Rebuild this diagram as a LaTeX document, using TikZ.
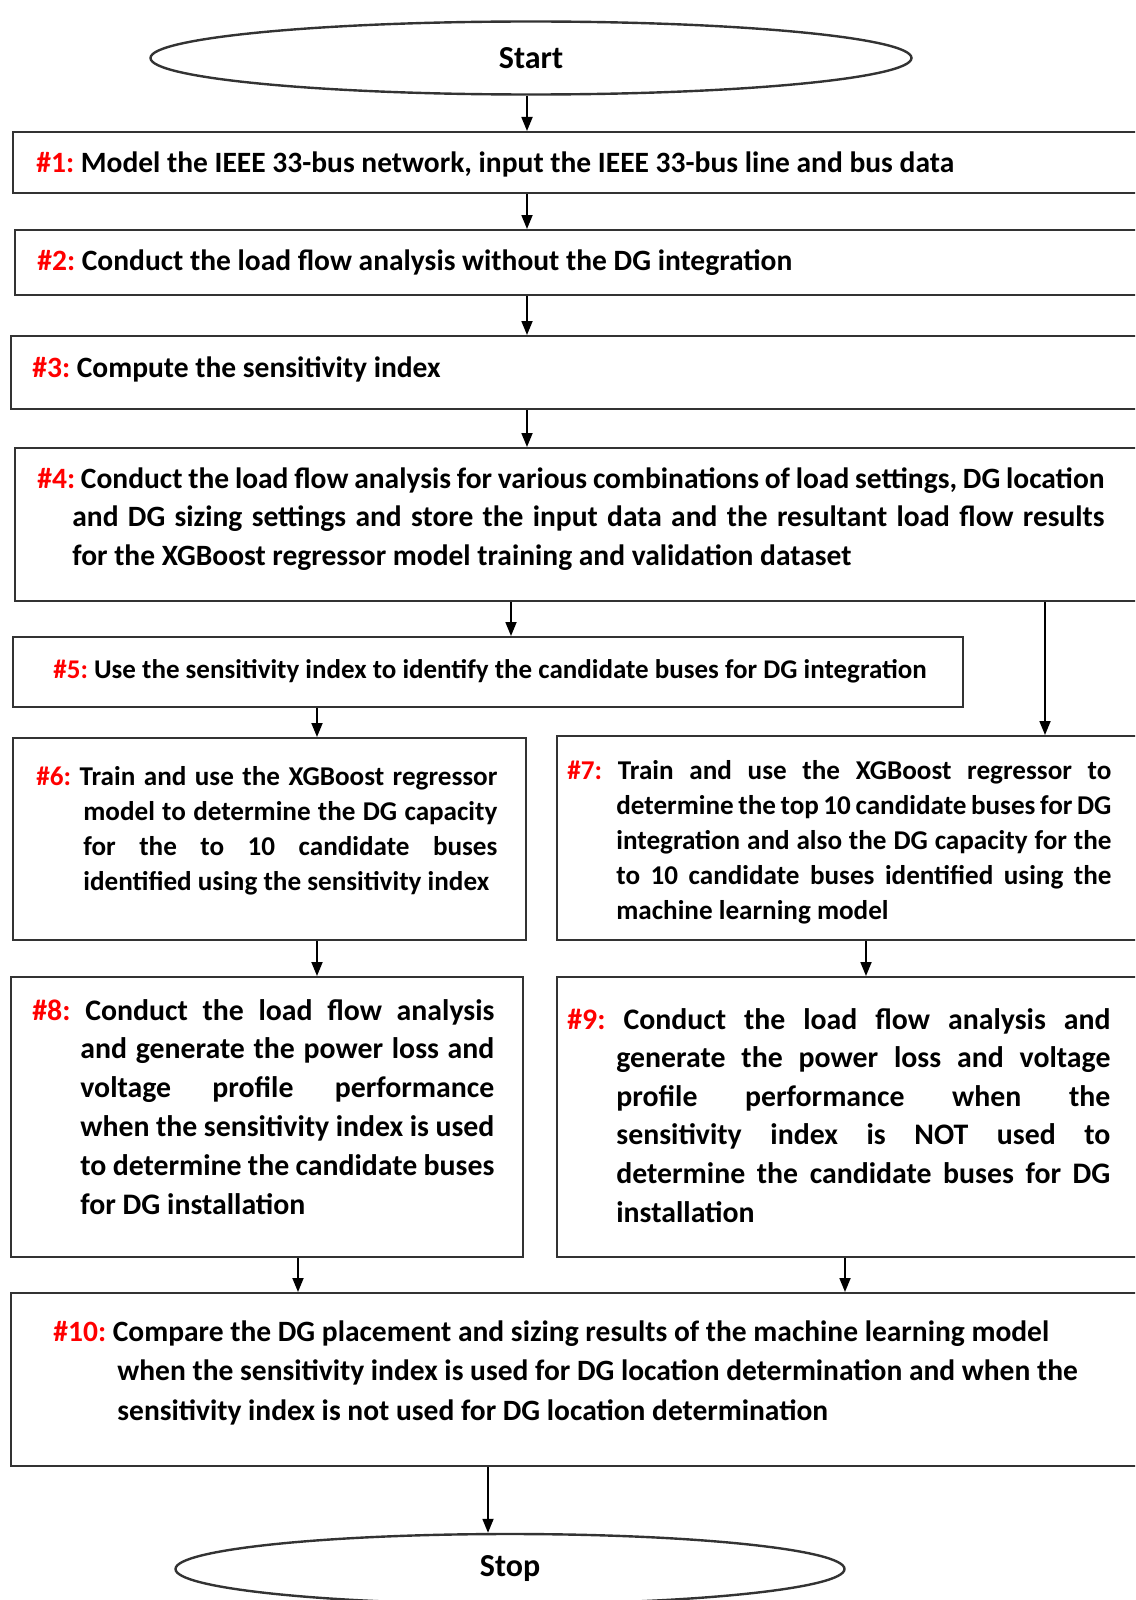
\documentclass[tikz,border=0pt]{standalone}
\usepackage{fontspec}
\setmainfont{Carlito}
\usepackage{xcolor}
\usetikzlibrary{arrows.meta,positioning,shapes.geometric}
\frenchspacing
\tikzset{
  fbox/.style={draw=black!80, line width=1.2pt, anchor=north west, inner sep=0pt},
  fend/.style={draw=black!80, line width=1.2pt, ellipse, inner sep=0pt,
               font=\bfseries\fontsize{16}{19}\selectfont},
  ftxt/.style={anchor=base west, inner sep=0pt},
  ar/.style={-{Triangle[length=7pt,width=5.5pt]}, draw=black, line width=0.9pt},
}
\newcommand{\stepid}[1]{\textcolor{red}{\##1:}}
\newcommand{\fpar}[3]{\parbox[t]{#1}{\hangindent=#2\hangafter=1
  \tolerance=10000 \hbadness=10000 \hyphenpenalty=10000 #3}}

\begin{document}
\begin{tikzpicture}[x=0.5pt, y=-0.5pt]
  \useasboundingbox (0,0) rectangle (1135,1600);
  \clip (0,0) rectangle (1135,1600);
  % terminals
  \node[fend, minimum width=380.5pt, minimum height=36.5pt] (start) at (531,58) {Start};
  \node[fend, minimum width=334.5pt, minimum height=35pt] (stop) at (510,1569) {Stop};
  % step boxes
  \node[fbox, minimum width=569pt, minimum height=30.5pt] (s1) at (12,131) {};
  \node[fbox, minimum width=568pt, minimum height=32.5pt] (s2) at (14,229) {};
  \node[fbox, minimum width=570pt, minimum height=36.5pt] (s3) at (10,335) {};
  \node[fbox, minimum width=568pt, minimum height=76.5pt] (s4) at (14,447) {};
  \node[fbox, minimum width=475pt, minimum height=35pt] (s5) at (12,636) {};
  \node[fbox, minimum width=256.5pt, minimum height=101pt] (s6) at (12,737) {};
  \node[fbox, minimum width=297pt, minimum height=102pt] (s7) at (556,735) {};
  \node[fbox, minimum width=256pt, minimum height=140pt] (s8) at (10,976) {};
  \node[fbox, minimum width=297pt, minimum height=140pt] (s9) at (556,976) {};
  \node[fbox, minimum width=570pt, minimum height=86.5pt] (s10) at (10,1292) {};
  % step texts
  \begin{scope}[every node/.append style={font=\bfseries\fontsize{14.75}{19.35}\selectfont}]
    \node[ftxt] (t1) at (36,172) {\stepid{1} Model the IEEE 33-bus network, input the IEEE 33-bus line and bus data};
    \node[ftxt] (t2) at (37,270) {\stepid{2} Conduct the load flow analysis without the DG integration};
    \node[ftxt] (t3) at (32,377) {\stepid{3} Compute the sensitivity index};
    \node[ftxt] (t4) at (37,488) {\fpar{533.5pt}{17.5pt}{\stepid{4} Conduct the load flow analysis for various combinations of load settings, DG location\linebreak
      and DG sizing settings and store the input data and the resultant load flow results\linebreak
      for the XGBoost regressor model training and validation dataset}};
    \node[ftxt, font=\bfseries\fontsize{13.5}{17.6}\selectfont] (t5) at (53,678) {\stepid{5} Use the sensitivity index to identify the candidate buses for DG integration};
    \node[ftxt, font=\bfseries\fontsize{13.57}{17.65}\selectfont] (t6) at (36,785) {\fpar{230.5pt}{23.5pt}{\stepid{6} Train and use the XGBoost regressor\linebreak
      model to determine the DG capacity\linebreak
      for the to 10 candidate buses\linebreak
      identified using the sensitivity index}};
    \node[ftxt, font=\bfseries\fontsize{13.57}{17.5}\selectfont] (t7) at (567,779) {\fpar{272pt}{24.5pt}{\stepid{7} Train and use the XGBoost regressor to\linebreak
      determine the top 10 candidate buses for DG\linebreak
      integration and also the DG capacity for the\linebreak
      to 10 candidate buses identified using the\linebreak
      machine learning model}};
    \node[ftxt, font=\bfseries\fontsize{14.9}{19.4}\selectfont] (t8) at (32,1020) {\fpar{231pt}{24pt}{\stepid{8} Conduct the load flow analysis\linebreak
      and generate the power loss and\linebreak
      voltage profile performance\linebreak
      when the sensitivity index is used\linebreak
      to determine the candidate buses\linebreak
      for DG installation}};
    \node[ftxt, font=\bfseries\fontsize{14.9}{19.3}\selectfont] (t9) at (567,1029) {\fpar{271.5pt}{24.5pt}{\stepid{9} Conduct the load flow analysis and\linebreak
      generate the power loss and voltage\linebreak
      profile performance when the\linebreak
      sensitivity index is NOT used to\linebreak
      determine the candidate buses for DG\linebreak
      installation}};
    \node[ftxt, font=\bfseries\fontsize{14.75}{19.75}\selectfont] (t10) at (53,1341) {\fpar{535pt}{32pt}{\stepid{10} Compare the DG placement and sizing results of the machine learning model\\
      when the sensitivity index is used for DG location determination and when the\\
      sensitivity index is not used for DG location determination}};
  \end{scope}
  % arrow columns
  \coordinate (xa) at (527,0);
  \coordinate (xb) at (511,0);
  \coordinate (xc) at (1045,0);
  \coordinate (xd) at (317,0);
  \coordinate (xe) at (866,0);
  \coordinate (xf) at (298,0);
  \coordinate (xg) at (845,0);
  \coordinate (xh) at (488,0);
  \draw[ar] (start.south -| xa) -- (s1.north -| xa);
  \draw[ar] (s1.south -| xa) -- (s2.north -| xa);
  \draw[ar] (s2.south -| xa) -- (s3.north -| xa);
  \draw[ar] (s3.south -| xa) -- (s4.north -| xa);
  \draw[ar] (s4.south -| xb) -- (s5.north -| xb);
  \draw[ar] (s4.south -| xc) -- (s7.north -| xc);
  \draw[ar] (s5.south -| xd) -- (s6.north -| xd);
  \draw[ar] (s6.south -| xd) -- (s8.north -| xd);
  \draw[ar] (s7.south -| xe) -- (s9.north -| xe);
  \draw[ar] (s8.south -| xf) -- (s10.north -| xf);
  \draw[ar] (s9.south -| xg) -- (s10.north -| xg);
  \draw[ar] (s10.south -| xh) -- (stop.north -| xh);
\end{tikzpicture}
\end{document}
